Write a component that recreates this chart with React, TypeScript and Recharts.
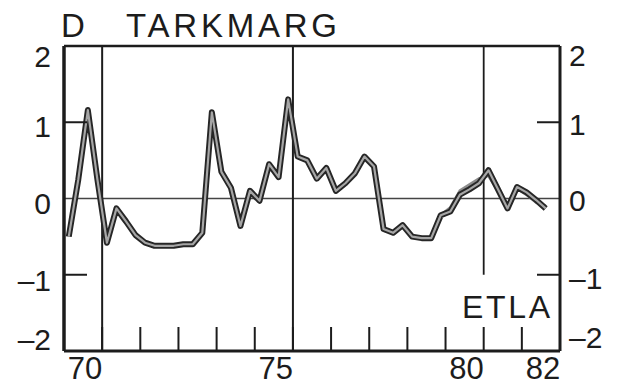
import { LineChart, Line, XAxis, YAxis, ReferenceLine } from 'recharts'

const INK = '#1c1c1c'
const FONT = '"Liberation Sans", Arial, Helvetica, sans-serif'

const FIRST_YEAR = 1970
const LAST_YEAR = 1983

// quarterly values from 1970Q1
const tarkmarg = [
  -0.5, 0.25, 1.16, 0.25, -0.58, -0.13, -0.3, -0.48,
  -0.58, -0.62, -0.62, -0.62, -0.6, -0.6, -0.45, 1.13,
  0.35, 0.14, -0.36, 0.1, -0.03, 0.45, 0.28, 1.3,
  0.55, 0.5, 0.26, 0.4, 0.1, 0.2, 0.33, 0.55,
  0.42, -0.4, -0.45, -0.35, -0.5, -0.52, -0.52, -0.22,
  -0.17, 0.05, 0.12, 0.2, 0.37, 0.12, -0.13, 0.15,
  0.08, -0.02, -0.13,
]

// second (lighter) series where it separates from the first one
const FORECAST_START = 39
const forecast = [-0.22, -0.12, 0.1, 0.18, 0.26, 0.3, 0.1, -0.08, 0.13, 0.05, -0.05, -0.1]

const yTicks = [-2, -1, 0, 1, 2]
const yearTicks = [1971, 1972, 1973, 1974, 1975, 1976, 1977, 1978, 1979, 1980, 1981, 1982]
const yearLabels = [1970, 1975, 1980, 1982]

const data = tarkmarg.map((v, i) => ({
  t: FIRST_YEAR + (i + 0.5) / 4,
  actual: v,
  forecast: i >= FORECAST_START ? forecast[i - FORECAST_START] : null,
}))

const yLabel = (v: number) => (v < 0 ? `\u2013${-v}` : String(v))

function XTick({ x, y, payload }: any) {
  const v = payload.value
  if (Number.isInteger(v)) {
    return <line x1={x} x2={x} y1={y} y2={y - 24} stroke={INK} strokeWidth={2} />
  }
  return (
    <text x={x + 2} y={y + 28} textAnchor="middle" fontSize={31} fontFamily={FONT} fill={INK}>
      {String(Math.floor(v)).slice(2)}
    </text>
  )
}

const LEFT_DY: Record<number, number> = { 2: 21, 1: 15, 0: 15, [-1]: 16, [-2]: -1 }
const RIGHT_DY: Record<number, number> = { 2: 20, 1: 13, 0: 12, [-1]: 14, [-2]: -3 }

function LeftTick({ x, y, payload }: any) {
  const v = payload.value
  return (
    <g>
      {Math.abs(v) === 1 && <line x1={x} x2={x + 23} y1={y} y2={y} stroke={INK} strokeWidth={2} />}
      <text x={x - 13} y={y + LEFT_DY[v]} textAnchor="end" fontSize={30} fontFamily={FONT} fill={INK}>
        {yLabel(v)}
      </text>
    </g>
  )
}

function RightTick({ x, y, payload }: any) {
  const v = payload.value
  return (
    <g>
      {Math.abs(v) === 1 && <line x1={x - 23} x2={x} y1={y} y2={y} stroke={INK} strokeWidth={2} />}
      <text x={x + 9} y={y + RIGHT_DY[v]} textAnchor="start" fontSize={30} fontFamily={FONT} fill={INK}>
        {yLabel(v)}
      </text>
    </g>
  )
}

export default function App() {
  return (
    <div style={{ position: 'absolute', left: 0, top: 0, width: 620, height: 386, background: '#fff' }}>
      <LineChart width={620} height={386} data={data} margin={{ top: 46, right: 10, left: 14, bottom: 0 }}>
        <XAxis
          type="number"
          dataKey="t"
          domain={[FIRST_YEAR, LAST_YEAR]}
          ticks={[...yearTicks, ...yearLabels.map((y) => y + 0.5)]}
          interval={0}
          tickSize={0}
          tickMargin={0}
          axisLine={false}
          tickLine={false}
          tick={XTick}
          height={35}
          allowDataOverflow
        />
        <YAxis
          yAxisId="left"
          domain={[-2, 2]}
          ticks={yTicks}
          interval={0}
          width={50}
          tickSize={0}
          tickMargin={0}
          axisLine={false}
          tickLine={false}
          tick={LeftTick}
        />
        <YAxis
          yAxisId="right"
          orientation="right"
          domain={[-2, 2]}
          ticks={yTicks}
          interval={0}
          width={50}
          tickSize={0}
          tickMargin={0}
          axisLine={false}
          tickLine={false}
          tick={RightTick}
        />

        <ReferenceLine yAxisId="left" y={0} stroke="#444" strokeWidth={1.5} />
        <ReferenceLine yAxisId="left" x={1971} stroke={INK} strokeWidth={2} />
        <ReferenceLine yAxisId="left" x={1976} stroke={INK} strokeWidth={2} />
        <ReferenceLine
          yAxisId="left"
          segment={[{ x: 1981, y: 2 }, { x: 1981, y: -1 }]}
          stroke={INK}
          strokeWidth={1.8}
        />
        <ReferenceLine yAxisId="left" y={2} stroke={INK} strokeWidth={2.5} />
        <ReferenceLine yAxisId="left" y={-2} stroke={INK} strokeWidth={3} />
        <ReferenceLine yAxisId="left" x={FIRST_YEAR} stroke={INK} strokeWidth={3.5} />
        <ReferenceLine yAxisId="left" x={LAST_YEAR} stroke={INK} strokeWidth={3} />

        <Line
          yAxisId="left"
          dataKey="forecast"
          stroke="#8c8c8c"
          strokeWidth={3}
          dot={false}
          strokeLinejoin="round"
          connectNulls={false}
          isAnimationActive={false}
        />
        <Line
          yAxisId="left"
          dataKey="actual"
          stroke="#262626"
          strokeWidth={6}
          dot={false}
          strokeLinejoin="round"
          isAnimationActive={false}
        />
        <Line
          yAxisId="right"
          dataKey="actual"
          stroke="#a6a6a6"
          strokeWidth={2.2}
          dot={false}
          strokeLinejoin="round"
          isAnimationActive={false}
        />
      </LineChart>

      <svg
        width={620}
        height={386}
        style={{ position: 'absolute', left: 0, top: 0, pointerEvents: 'none' }}
        fontFamily={FONT}
        fill={INK}
      >
        <text x={61} y={37} fontSize={33}>D</text>
        <text x={126} y={37} fontSize={33} textLength={211} lengthAdjust="spacing">TARKMARG</text>
        <text x={462} y={318} fontSize={32} textLength={88} lengthAdjust="spacing">ETLA</text>
      </svg>
    </div>
  )
}
